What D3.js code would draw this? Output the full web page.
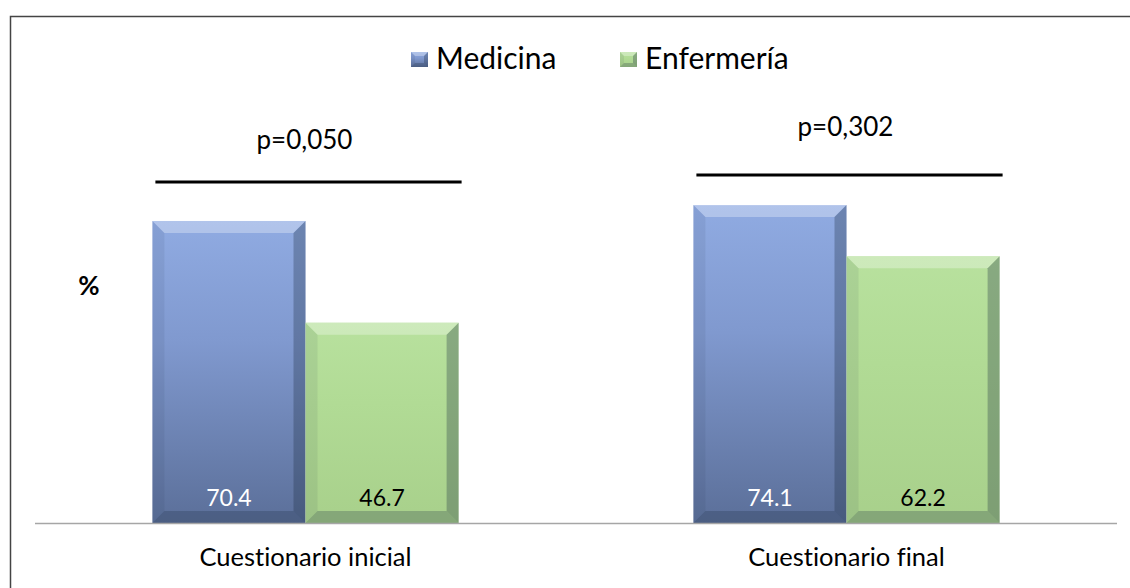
<!DOCTYPE html>
<html>
<head>
<meta charset="utf-8">
<script src="https://cdn.jsdelivr.net/npm/d3@7"></script>
<style>
  html, body { margin: 0; padding: 0; background: #fff; }
  svg { display: block; font-family: Lato, "Open Sans", sans-serif; font-variant-ligatures: none; }
</style>
</head>
<body>
<svg id="chart" width="1130" height="588"></svg>
<script>
// Chart data
const categories = ["Cuestionario inicial", "Cuestionario final"];
const seriesNames = ["Medicina", "Enfermería"];
const medicina = [70.4, 74.1];
const enfermeria = [46.7, 62.2];
const pValues = ["p=0,050", "p=0,302"];

const W = 1130, H = 588;
const margin = { left: 35, right: 13, top: 94, bottom: 65 };
const svg = d3.select("#chart");

const x0 = d3.scaleBand()
  .domain(categories)
  .range([margin.left, W - margin.right])
  .paddingInner(0.434)
  .paddingOuter(0.217);
const x1 = d3.scaleBand().domain(seriesNames).range([0, x0.bandwidth()]);
const y = d3.scaleLinear().domain([0, 100]).range([H - margin.bottom, margin.top]);

const styles = {
  "Medicina": { top: "#90abe2", mid: "#8099cf", bot: "#5b6f99", text: "#ffffff" },
  "Enfermería": { top: "#b8e19e", mid: "#b1db95", bot: "#a8d08b", text: "#000000" }
};

const defs = svg.append("defs");
seriesNames.forEach((s, i) => {
  const g = defs.append("linearGradient").attr("id", "grad" + i)
    .attr("x1", 0).attr("y1", 0).attr("x2", 0).attr("y2", 1);
  g.append("stop").attr("offset", "0%").attr("stop-color", styles[s].top);
  g.append("stop").attr("offset", "40%").attr("stop-color", styles[s].mid);
  g.append("stop").attr("offset", "100%").attr("stop-color", styles[s].bot);
});

function drawBevelBox(g, x, yTop, w, h, si, b) {
  g.append("rect").attr("x", x).attr("y", yTop).attr("width", w).attr("height", h)
    .attr("fill", `url(#grad${si})`);
  const x2 = x + w, y2 = yTop + h;
  // top bevel (highlight)
  g.append("path").attr("d", `M${x},${yTop}L${x2},${yTop}L${x2 - b},${yTop + b}L${x + b},${yTop + b}Z`)
    .attr("fill", "#ffffff").attr("opacity", 0.3);
  // left bevel
  g.append("path").attr("d", `M${x},${yTop}L${x + b},${yTop + b}L${x + b},${y2 - b}L${x},${y2}Z`)
    .attr("fill", "#1a2a40").attr("opacity", 0.08);
  // right bevel (shadow)
  g.append("path").attr("d", `M${x2},${yTop}L${x2},${y2}L${x2 - b},${y2 - b}L${x2 - b},${yTop + b}Z`)
    .attr("fill", "#1a2a40").attr("opacity", 0.3);
  // bottom bevel
  g.append("path").attr("d", `M${x},${y2}L${x2},${y2}L${x2 - b},${y2 - b}L${x + b},${y2 - b}Z`)
    .attr("fill", "#1a2a40").attr("opacity", 0.25);
}

// Outer frame
svg.append("path")
  .attr("d", `M10.5,${H + 2}V16.5H${W + 2}`)
  .attr("fill", "none").attr("stroke", "#444").attr("stroke-width", 1.5);

// Legend
const legend = svg.append("g");
const legendItems = [
  { name: "Medicina", x: 411 },
  { name: "Enfermería", x: 620 }
];
legendItems.forEach((it, i) => {
  const gg = legend.append("g").attr("transform", `translate(${it.x},52)`);
  drawBevelBox(gg, 0, 0, 17, 15, i, 4);
  gg.append("text").attr("x", 25).attr("y", 17)
    .attr("font-size", 30).attr("fill", "#000").text(it.name);
});

// Bars
const rows = categories.map((c, i) => ({ cat: c, vals: [medicina[i], enfermeria[i]] }));

const groups = svg.append("g").selectAll("g").data(rows).join("g")
  .attr("transform", d => `translate(${x0(d.cat)},0)`);

groups.each(function (d) {
  const g = d3.select(this);
  d.vals.forEach((v, si) => {
    const s = seriesNames[si];
    const bx = x1(s), bw = x1.bandwidth();
    const top = y(v), bh = y(0) - y(v);
    drawBevelBox(g, bx, top, bw, bh, si, 12);
    g.append("text")
      .attr("x", bx + bw / 2).attr("y", y(0) - 17)
      .attr("text-anchor", "middle").attr("font-size", 23)
      .attr("fill", styles[s].text).text(v.toFixed(1));
  });
});

// Baseline
svg.append("line")
  .attr("x1", margin.left).attr("x2", W - margin.right)
  .attr("y1", y(0) + 0.5).attr("y2", y(0) + 0.5)
  .attr("stroke", "#a6a6a6").attr("stroke-width", 1.5);

// Category labels
svg.append("g").selectAll("text").data(categories).join("text")
  .attr("x", d => x0(d) + x0.bandwidth() / 2)
  .attr("y", 566)
  .attr("text-anchor", "middle").attr("font-size", 25.5).attr("fill", "#000")
  .text(d => d);

// Significance brackets
const sigLineY = [182, 175];
const sigTextY = [149, 136];
categories.forEach((c, i) => {
  const cx = x0(c) + x0.bandwidth() / 2;
  svg.append("line")
    .attr("x1", x0(c) + 3).attr("x2", x0(c) + x0.bandwidth() + 3)
    .attr("y1", sigLineY[i]).attr("y2", sigLineY[i])
    .attr("stroke", "#000").attr("stroke-width", 3);
  svg.append("text").attr("x", cx - 1).attr("y", sigTextY[i])
    .attr("text-anchor", "middle").attr("font-size", 26).attr("fill", "#000")
    .text(pValues[i]);
});

// Axis unit label
svg.append("text").attr("x", 89).attr("y", 295)
  .attr("text-anchor", "middle").attr("font-size", 26).attr("font-weight", "bold")
  .text("%");
</script>
</body>
</html>
